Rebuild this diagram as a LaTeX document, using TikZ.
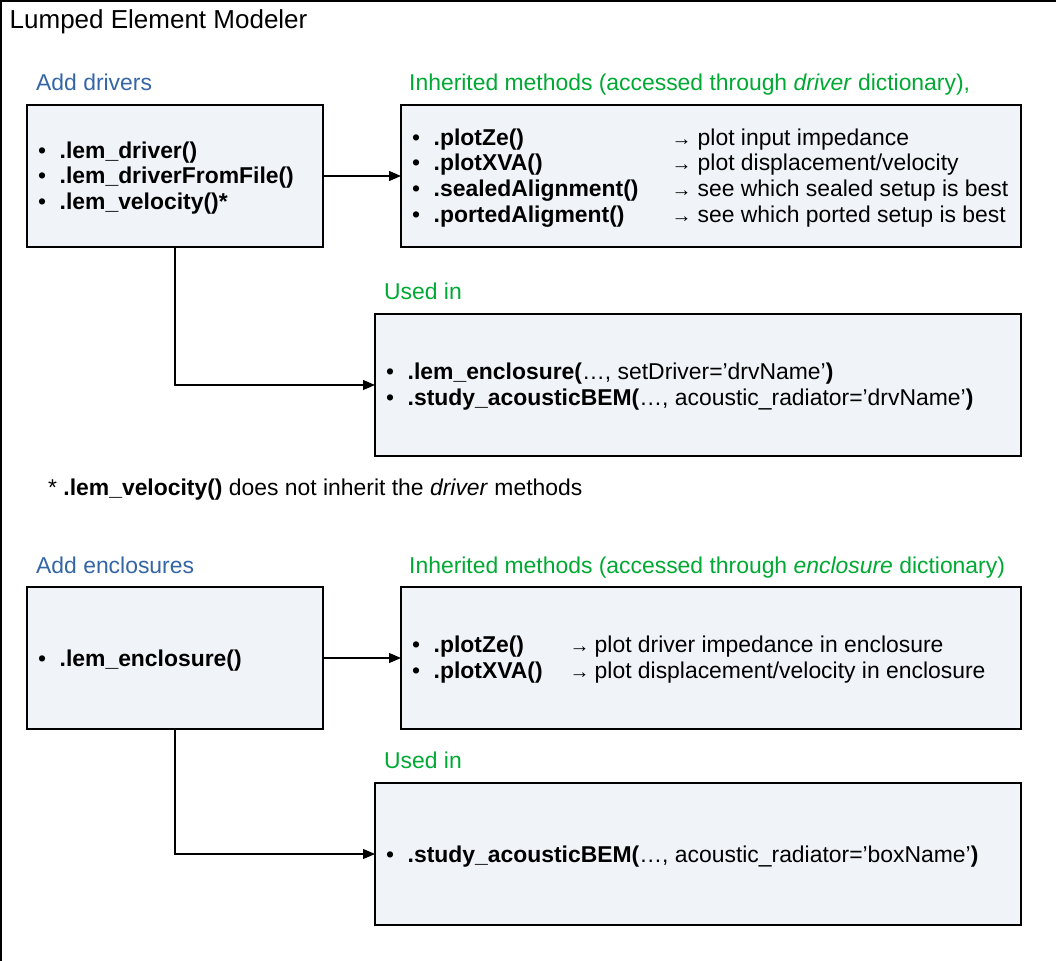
\documentclass[tikz,border=0pt]{standalone}
\usepackage{fontspec}
\setmainfont{Liberation Sans}
\usetikzlibrary{arrows.meta,positioning}

\definecolor{boxfill}{RGB}{240,244,249}
\definecolor{hdblue}{RGB}{52,101,164}
\definecolor{hdgreen}{RGB}{0,169,51}

\newcommand{\blt}{\makebox[21.5pt][l]{•}}
\newcommand{\arr}[1]{\makebox[#1][l]{\hspace{0.5pt}\fontsize{20}{20}\selectfont →}}

\tikzset{
  lembox/.style={draw, line width=1.2pt, fill=boxfill, anchor=north west,
    outer sep=0pt, inner sep=0pt, minimum height=142pt},
  items/.style={anchor=west, inner sep=0pt, align=left},
  hdblue/.style={anchor=base west, inner sep=0pt, text=hdblue},
  hdgreen/.style={anchor=base west, inner sep=0pt, text=hdgreen},
  conn/.style={line width=1.2pt, -{Triangle[length=12pt,width=10pt]}},
}

\begin{document}
\begin{tikzpicture}[x=1pt, y=-1pt, font=\fontsize{22.9}{25.6}\selectfont]
		\useasboundingbox (0,0) rectangle (1056,960);
		\clip (0,0) rectangle (1056,960);
		% outer frame
		\draw [line width=1.2pt] (1,1) rectangle (1070,975);
		\node [anchor=base west, inner sep=0pt, font=\fontsize{26}{30}\selectfont] (title) at (9.5,29) {Lumped Element Modeler};
		
		% drivers
		\node [lembox, minimum width=296pt] (drv) at (27,105) {};
		\node [lembox, minimum width=620pt] (drvinh) at (401,105) {};
		\node [lembox, minimum width=646pt] (drvuse) at (375,314) {};
		\node [hdblue] (drvhd) at ([xshift=9pt, yshift=14pt]drv.north west) {Add drivers};
		\node [hdgreen] (drvinhhd) at ([xshift=8pt, yshift=14pt]drvinh.north west) {Inherited methods (accessed through \textit{driver} dictionary),};
		\node [hdgreen] (drvusehd) at ([xshift=9pt, yshift=15pt]drvuse.north west) {Used in};
		\node [items] (drvtxt) at ([xshift=11pt, yshift=-2.5pt]drv.west) {\begin{tabular}{@{}l@{}}
			\blt\textbf{.lem\_driver()}\\
			\blt\textbf{.lem\_driverFromFile()}\\
			\blt\textbf{.lem\_velocity()*}
		\end{tabular}};
		\node [items] (drvinhtxt) at ([xshift=11pt, yshift=-2.5pt]drvinh.west) {\begin{tabular}{@{}l@{}}
			\blt\makebox[237.5pt][l]{\textbf{.plotZe()}}\arr{26.5pt}plot input impedance\\
			\blt\makebox[237.5pt][l]{\textbf{.plotXVA()}}\arr{26.5pt}plot displacement/velocity\\
			\blt\makebox[237.5pt][l]{\textbf{.sealedAlignment()}}\arr{26.5pt}see which sealed setup is best\\
			\blt\makebox[237.5pt][l]{\textbf{.portedAligment()}}\arr{26.5pt}see which ported setup is best
		\end{tabular}};
		\node [items] (drvusetxt) at ([xshift=11pt, yshift=-2.5pt]drvuse.west) {\begin{tabular}{@{}l@{}}
			\blt\textbf{.lem\_enclosure(}…, setDriver=’drvName’\textbf{)}\\
			\blt\textbf{.study\_acousticBEM(}…, acoustic\_radiator=’drvName’\textbf{)}
		\end{tabular}};
		\draw [conn] (drv.east) -- (drvinh.west);
		\draw [conn] (drv.south) |- (drvuse.west);
		
		\node [anchor=base west, inner sep=0pt] (note) at (48,495) {* \textbf{.lem\_velocity()} does not inherit the \textit{driver} methods};
		
		% enclosures
		\node [lembox, minimum width=296pt] (enc) at (27,587) {};
		\node [lembox, minimum width=620pt] (encinh) at (401,587) {};
		\node [lembox, minimum width=646pt] (encuse) at (375,783) {};
		\node [hdblue] (enchd) at ([xshift=9pt, yshift=14pt]enc.north west) {Add enclosures};
		\node [hdgreen] (encinhhd) at ([xshift=8pt, yshift=14pt]encinh.north west) {Inherited methods (accessed through \textit{enclosure} dictionary)};
		\node [hdgreen] (encusehd) at ([xshift=9pt, yshift=15pt]encuse.north west) {Used in};
		\node [items] (enctxt) at ([xshift=11pt, yshift=-2.5pt]enc.west) {\blt\textbf{.lem\_enclosure()}};
		\node [items] (encinhtxt) at ([xshift=11pt, yshift=-2.5pt]encinh.west) {\begin{tabular}{@{}l@{}}
			\blt\makebox[135.5pt][l]{\textbf{.plotZe()}}\arr{25.5pt}plot driver impedance in enclosure\\
			\blt\makebox[135.5pt][l]{\textbf{.plotXVA()}}\arr{25.5pt}plot displacement/velocity in enclosure
		\end{tabular}};
		\node [items] (encusetxt) at ([xshift=11pt, yshift=-2.5pt]encuse.west) {\blt\textbf{.study\_acousticBEM(}…, acoustic\_radiator=’boxName’\textbf{)}};
		\draw [conn] (enc.east) -- (encinh.west);
		\draw [conn] (enc.south) |- (encuse.west);
	\end{tikzpicture}
\end{document}
